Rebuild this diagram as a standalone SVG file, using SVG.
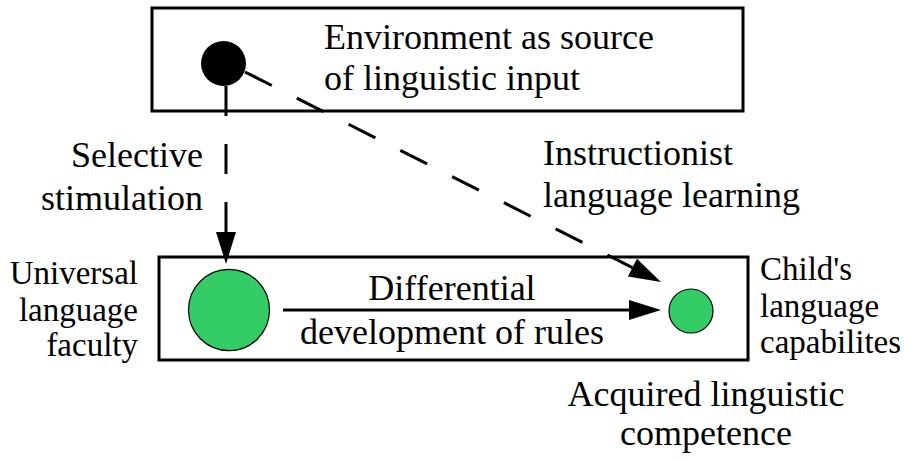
<svg xmlns="http://www.w3.org/2000/svg" width="904" height="460" viewBox="0 0 904 460">
<defs>
<marker id="ah" markerUnits="userSpaceOnUse" markerWidth="34" markerHeight="22" refX="0" refY="10" orient="auto">
<path d="M0,0 L32,10 L0,20 z" fill="#000"/>
</marker>
<style>
.box{fill:#fff;stroke:#000;stroke-width:3}
.t{font-family:"Liberation Serif","Times New Roman",serif;font-size:36px;fill:#000}
.s{font-family:"Liberation Serif","Times New Roman",serif;font-size:33px;fill:#000}
.con{fill:none;stroke:#000;stroke-width:3}
.dash{stroke-dasharray:30 28}
.g{fill:#33cc66;stroke:#000;stroke-width:1.2}
</style>
</defs>
<rect width="904" height="460" fill="#fff"/>
<g id="env">
<rect class="box" x="152" y="8" width="591" height="103"/>
<circle cx="223.5" cy="63.5" r="22.5" fill="#000"/>
<text class="t" x="324" y="49">Environment as source</text>
<text class="t" x="324" y="90">of linguistic input</text>
</g>
<g id="bottom">
<rect class="box" x="159" y="257" width="589" height="103"/>
</g>
<g id="universal">
<ellipse class="g" cx="229" cy="310" rx="40.5" ry="40.7"/>
<text class="s" text-anchor="end" x="138" y="284">Universal</text>
<text class="s" text-anchor="end" x="138" y="321">language</text>
<text class="s" text-anchor="end" x="138" y="356">faculty</text>
</g>
<g id="child">
<circle class="g" cx="691" cy="311" r="22"/>
<text class="s" x="760" y="280">Child's</text>
<text class="s" x="760" y="317">language</text>
<text class="s" x="760" y="353">capabilites</text>
</g>
<g id="acquired">
<text class="t" text-anchor="middle" x="706" y="406">Acquired linguistic</text>
<text class="t" text-anchor="middle" x="706" y="445">competence</text>
</g>
<g id="connectors">
<line class="con dash" x1="226" y1="86" x2="226" y2="232" marker-end="url(#ah)"/>
<line class="con dash" x1="245" y1="72" x2="632.4" y2="267.6" marker-end="url(#ah)"/>
<line class="con" x1="283" y1="310" x2="629" y2="310" marker-end="url(#ah)"/>
<text class="t" text-anchor="end" x="203" y="167">Selective</text>
<text class="t" text-anchor="end" x="203" y="210">stimulation</text>
<text class="t" x="543" y="165">Instructionist</text>
<text class="t" x="543" y="207">language learning</text>
<text class="t" text-anchor="middle" x="452" y="300">Differential</text>
<text class="t" text-anchor="middle" x="452" y="344">development of rules</text>
</g>
</svg>
